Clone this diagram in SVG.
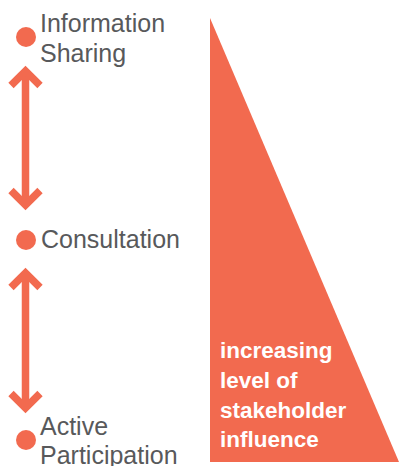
<svg xmlns="http://www.w3.org/2000/svg" width="399" height="466" viewBox="0 0 399 466">
<style>
.lbl{font-family:"Liberation Sans",Arial,sans-serif;font-size:25px;fill:#58595b}
.wt{font-family:"Liberation Sans",Arial,sans-serif;font-size:22.5px;font-weight:bold;fill:#ffffff}
.dot{fill:#f26a4f}
.ar{stroke:#f26a4f;stroke-width:7.5;fill:none;stroke-linejoin:miter;stroke-miterlimit:10}
</style>
<rect width="399" height="466" fill="#ffffff"/>
<g id="triangle">
<polygon points="210,18 210,462 399,462" fill="#f26a4f"/>
<text class="wt" x="220" y="358">increasing</text>
<text class="wt" x="220" y="388">level of</text>
<text class="wt" x="220" y="418">stakeholder</text>
<text class="wt" x="220" y="447">influence</text>
</g>
<g id="node-information-sharing">
<circle class="dot" cx="26" cy="37" r="10"/>
<text class="lbl" x="40" y="32">Information</text>
<text class="lbl" x="40" y="62">Sharing</text>
</g>
<g id="node-consultation">
<circle class="dot" cx="26" cy="240" r="10"/>
<text class="lbl" x="41" y="248">Consultation</text>
</g>
<g id="node-active-participation">
<circle class="dot" cx="26" cy="440" r="10"/>
<text class="lbl" x="40" y="435">Active</text>
<text class="lbl" x="40" y="464">Participation</text>
</g>
<g id="connectors">
<path class="ar" d="M25.5,71 V205"/>
<path class="ar" d="M11,85.5 L25.5,71 L40,85.5"/>
<path class="ar" d="M11,190.5 L25.5,205 L40,190.5"/>
<path class="ar" d="M25.5,273 V408"/>
<path class="ar" d="M11,287.5 L25.5,273 L40,287.5"/>
<path class="ar" d="M11,393.5 L25.5,408 L40,393.5"/>
</g>
</svg>
